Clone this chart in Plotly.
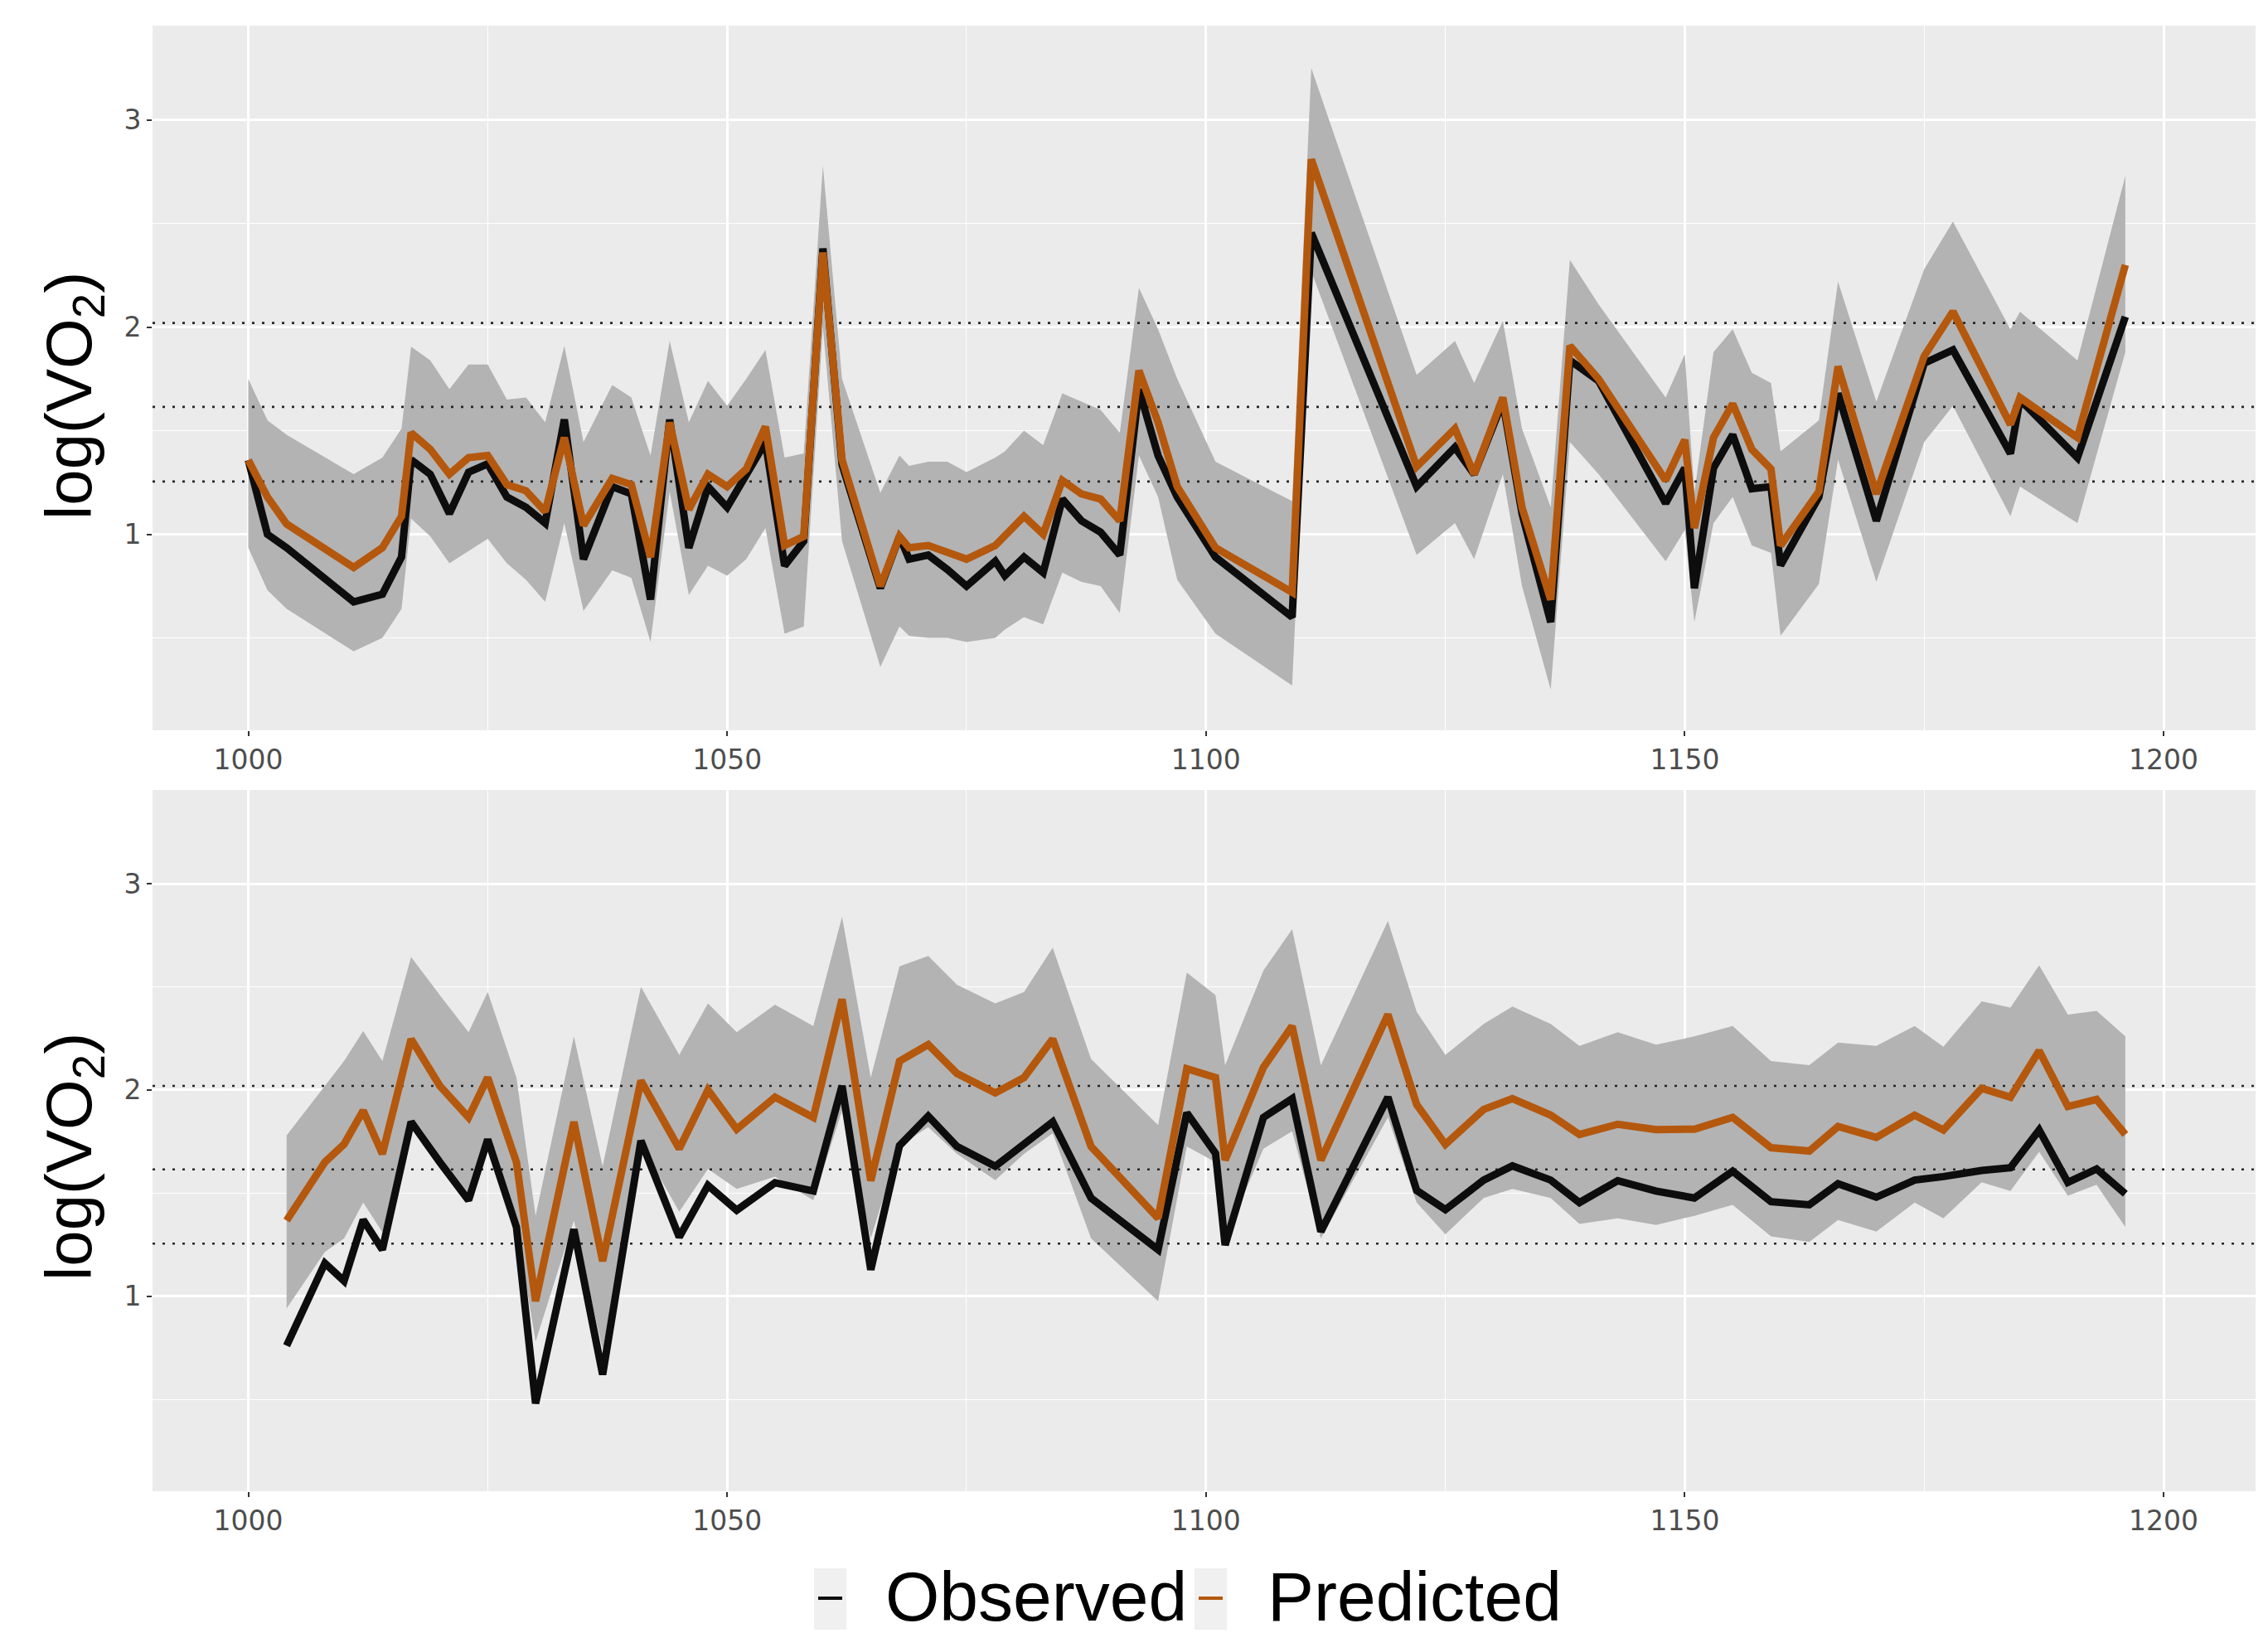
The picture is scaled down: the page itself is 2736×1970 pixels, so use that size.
import plotly.graph_objects as go

# ---------------- data ----------------
x1 = [1000, 1002, 1004, 1011, 1014, 1016, 1017, 1019, 1021, 1023,
      1025, 1027, 1029, 1031, 1033, 1035, 1038, 1040, 1042, 1044,
      1046, 1048, 1050, 1052, 1054, 1056, 1058, 1060, 1062, 1066,
      1068, 1069, 1071, 1073, 1075, 1078, 1079, 1081, 1083, 1085,
      1087, 1089, 1091, 1093, 1095, 1097, 1101, 1109, 1111, 1122,
      1126, 1128, 1131, 1133, 1136, 1138, 1141, 1148, 1150, 1151,
      1153, 1155, 1157, 1159, 1160, 1164, 1166, 1170, 1175, 1178,
      1184, 1185, 1191, 1196]
obs1 = [1.358, 1.0, 0.935, 0.674, 0.711, 0.89, 1.36, 1.29, 1.10, 1.30,
        1.34, 1.18, 1.13, 1.054, 1.554, 0.88, 1.23, 1.195, 0.685, 1.554,
        0.935, 1.23, 1.13, 1.29, 1.445, 0.848, 0.967, 2.38, 1.337, 0.74,
        0.99, 0.88, 0.90, 0.83, 0.75, 0.87, 0.80, 0.89, 0.815, 1.17,
        1.065, 1.01, 0.90, 1.70, 1.38, 1.18, 0.89, 0.60, 2.455, 1.23,
        1.42, 1.29, 1.64, 1.10, 0.576, 1.84, 1.74, 1.15, 1.32, 0.74,
        1.32, 1.48, 1.22, 1.23, 0.85, 1.18, 1.68, 1.065, 1.826, 1.89,
        1.39, 1.65, 1.37, 2.05]
pred1 = [1.358, 1.18, 1.05, 0.84, 0.935, 1.087, 1.49, 1.41, 1.29, 1.37,
         1.38, 1.24, 1.21, 1.11, 1.467, 1.043, 1.27, 1.24, 0.89, 1.54,
         1.12, 1.29, 1.23, 1.315, 1.52, 0.946, 0.99, 2.36, 1.36, 0.75,
         0.99, 0.935, 0.946, 0.91, 0.88, 0.946, 0.99, 1.087, 1.0, 1.26,
         1.195, 1.17, 1.065, 1.79, 1.54, 1.23, 0.935, 0.72, 2.81, 1.326,
         1.51, 1.29, 1.66, 1.13, 0.685, 1.91, 1.75, 1.26, 1.456, 1.03,
         1.467, 1.63, 1.41, 1.315, 0.946, 1.206, 1.81, 1.195, 1.86, 2.075,
         1.53, 1.66, 1.467, 2.30]
lo1 = [0.935, 0.73, 0.64, 0.435, 0.50, 0.64, 1.076, 0.99, 0.86, 0.92,
       0.978, 0.86, 0.78, 0.674, 1.054, 0.63, 0.826, 0.79, 0.48, 1.206,
       0.707, 0.848, 0.80, 0.88, 1.03, 0.52, 0.555, 2.0, 0.967, 0.36,
       0.555, 0.51, 0.50, 0.50, 0.48, 0.50, 0.54, 0.60, 0.565, 0.815,
       0.77, 0.75, 0.62, 1.38, 1.18, 0.78, 0.52, 0.27, 2.27, 0.90,
       1.054, 0.88, 1.29, 0.75, 0.25, 1.445, 1.29, 0.87, 1.02, 0.576,
       1.054, 1.18, 0.946, 0.91, 0.51, 0.76, 1.36, 0.77, 1.445, 1.62,
       1.087, 1.23, 1.054, 1.88]
hi1 = [1.75, 1.55, 1.48, 1.29, 1.37, 1.51, 1.906, 1.84, 1.70, 1.82,
       1.82, 1.65, 1.66, 1.54, 1.91, 1.445, 1.72, 1.66, 1.38, 1.934,
       1.54, 1.74, 1.62, 1.75, 1.89, 1.37, 1.39, 2.78, 1.75, 1.20,
       1.38, 1.33, 1.35, 1.35, 1.30, 1.37, 1.40, 1.50, 1.43, 1.68,
       1.64, 1.60, 1.49, 2.19, 1.99, 1.75, 1.35, 1.16, 3.25, 1.77,
       1.934, 1.73, 2.03, 1.51, 1.13, 2.325, 2.11, 1.66, 1.87, 1.20,
       1.88, 1.99, 1.78, 1.73, 1.40, 1.55, 2.22, 1.64, 2.28, 2.51,
       1.99, 2.075, 1.84, 2.73]

x2 = [1004, 1008, 1010, 1012, 1014, 1017, 1020, 1023, 1025, 1028,
      1030, 1034, 1037, 1041, 1045, 1048, 1051, 1055, 1059, 1062,
      1065, 1068, 1071, 1074, 1078, 1081, 1084, 1088, 1095, 1098,
      1101, 1102, 1106, 1109, 1112, 1119, 1122, 1125, 1129, 1132,
      1136, 1139, 1143, 1147, 1151, 1155, 1159, 1163, 1166, 1170,
      1174, 1177, 1181, 1184, 1187, 1190, 1193, 1196]
obs2 = [0.76, 1.16, 1.074, 1.37, 1.226, 1.845, 1.65, 1.465, 1.76, 1.335,
        0.48, 1.324, 0.62, 1.754, 1.287, 1.537, 1.417, 1.55, 1.51, 2.02,
        1.128, 1.73, 1.873, 1.726, 1.63, 1.736, 1.845, 1.476, 1.226, 1.889,
        1.693, 1.248, 1.867, 1.958, 1.313, 1.965, 1.513, 1.42, 1.563, 1.632,
        1.563, 1.454, 1.56, 1.51, 1.476, 1.606, 1.458, 1.443, 1.545, 1.48,
        1.563, 1.58, 1.61, 1.623, 1.806, 1.552, 1.617, 1.497]
pred2 = [1.367, 1.65, 1.737, 1.90, 1.69, 2.247, 2.02, 1.867, 2.06, 1.65,
         0.976, 1.845, 1.17, 2.045, 1.715, 2.0, 1.81, 1.965, 1.867, 2.44,
         1.56, 2.14, 2.22, 2.08, 1.986, 2.06, 2.247, 1.726, 1.378, 2.103,
         2.06, 1.66, 2.11, 2.31, 1.66, 2.366, 1.93, 1.736, 1.906, 1.958,
         1.878, 1.784, 1.834, 1.808, 1.81, 1.867, 1.72, 1.704, 1.823, 1.77,
         1.878, 1.806, 2.008, 1.965, 2.19, 1.92, 1.954, 1.784]
lo2 = [0.94, 1.215, 1.28, 1.454, 1.31, 1.82, 1.67, 1.487, 1.715, 1.345,
       0.78, 1.367, 0.74, 1.736, 1.41, 1.617, 1.52, 1.58, 1.465, 1.90,
       1.28, 1.73, 1.82, 1.69, 1.563, 1.69, 1.79, 1.28, 0.976, 1.726,
       1.65, 1.28, 1.715, 1.80, 1.28, 1.867, 1.454, 1.30, 1.476, 1.52,
       1.476, 1.35, 1.378, 1.345, 1.39, 1.443, 1.29, 1.263, 1.37, 1.313,
       1.454, 1.378, 1.552, 1.51, 1.70, 1.487, 1.54, 1.335]
hi2 = [1.78, 2.02, 2.14, 2.286, 2.14, 2.645, 2.46, 2.28, 2.475, 2.06,
       1.39, 2.26, 1.63, 2.50, 2.17, 2.42, 2.28, 2.414, 2.31, 2.84,
       2.06, 2.6, 2.65, 2.51, 2.42, 2.475, 2.69, 2.15, 1.83, 2.57,
       2.46, 2.12, 2.58, 2.78, 2.12, 2.82, 2.38, 2.17, 2.32, 2.405,
       2.32, 2.214, 2.28, 2.22, 2.26, 2.31, 2.14, 2.12, 2.23, 2.214,
       2.31, 2.21, 2.43, 2.40, 2.605, 2.366, 2.384, 2.26]

hline_levels = [2.02, 1.615, 1.255]
x_tick_vals = [1000, 1050, 1100, 1150, 1200]
x_tick_text = ["1000", "1050", "1100", "1150", "1200"]
x_minor_vals = [1025, 1075, 1125, 1175]
y_tick_vals = [1, 2, 3]
y_tick_text = ["1", "2", "3"]
y_minor_vals = [0.5, 1.5, 2.5]
series_names = ["Observed", "Predicted"]
y_title = "log(VO<sub>2</sub>)"

# ---------------- styling ----------------
W, H = 2736, 1970
OFF = 8  # page body margin offset
# target page-pixel positions of the panels
P_LEFT, P_RIGHT = 184, 2721
P1_TOP, P1_BOT = 31, 881
P2_TOP, P2_BOT = 953, 1799
ML = P_LEFT - OFF
MR = W - (P_RIGHT - OFF)
MT = P1_TOP - OFF
MB = H - (P2_BOT - OFF)
X_RANGE = [990.0, 1209.6]
Y_RANGE = [0.054, 3.455]
PANEL_BG = "#EBEBEB"
RIBBON = "#B3B3B3"
OBS_COLOR = "#0D0D0D"
PRED_COLOR = "#B4580E"
LINE_W = 9
TICK_FONT = dict(family="DejaVu Sans", size=33, color="#4D4D4D")

plot_h = H - MT - MB
plot_w = W - ML - MR


def py(y_page):
    return (H - MB - (y_page - OFF)) / plot_h


def px(x_page):
    return ((x_page - OFF) - ML) / plot_w


fig = go.Figure()

panels = [
    ("x", "y", x1, obs1, pred1, lo1, hi1),
    ("x2", "y2", x2, obs2, pred2, lo2, hi2),
]

for xa, ya, xs, ob, pr, lo, hi in panels:
    fig.add_trace(go.Scatter(x=xs, y=lo, xaxis=xa, yaxis=ya, mode="lines",
                             line=dict(width=0, color=RIBBON), showlegend=False,
                             hoverinfo="skip"))
    fig.add_trace(go.Scatter(x=xs, y=hi, xaxis=xa, yaxis=ya, mode="lines",
                             line=dict(width=0, color=RIBBON), fill="tonexty",
                             fillcolor=RIBBON, showlegend=False, hoverinfo="skip"))
    for lvl in hline_levels:
        fig.add_trace(go.Scatter(x=X_RANGE, y=[lvl, lvl], xaxis=xa, yaxis=ya,
                                 mode="lines", showlegend=False, hoverinfo="skip",
                                 line=dict(color="#262626", width=2.6, dash="3px,9px")))
    fig.add_trace(go.Scatter(x=xs, y=ob, xaxis=xa, yaxis=ya, mode="lines",
                             name=series_names[0], showlegend=False,
                             line=dict(color=OBS_COLOR, width=LINE_W)))
    fig.add_trace(go.Scatter(x=xs, y=pr, xaxis=xa, yaxis=ya, mode="lines",
                             name=series_names[1], showlegend=False,
                             line=dict(color=PRED_COLOR, width=LINE_W)))

axis_common_x = dict(
    range=X_RANGE, tickmode="array", tickvals=x_tick_vals, ticktext=x_tick_text,
    showgrid=True, gridcolor="white", gridwidth=2.6, zeroline=False, showline=False,
    ticks="outside", ticklen=6, tickwidth=2, tickcolor="#333333", tickfont=TICK_FONT,
    automargin=False,
    minor=dict(tickvals=x_minor_vals, showgrid=True, gridcolor="white", gridwidth=1.3, ticks=""),
)
axis_common_y = dict(
    range=Y_RANGE, tickmode="array", tickvals=y_tick_vals, ticktext=y_tick_text,
    showgrid=True, gridcolor="white", gridwidth=2.6, zeroline=False, showline=False,
    ticks="outside", ticklen=6, tickwidth=2, tickcolor="#333333", tickfont=TICK_FONT,
    automargin=False,
    minor=dict(tickvals=y_minor_vals, showgrid=True, gridcolor="white", gridwidth=1.3, ticks=""),
)

top_dom = [py(P1_BOT), 1.0]
bot_dom = [0.0, py(P2_TOP)]

fig.update_layout(
    width=W, height=H,
    margin=dict(l=ML, r=MR, t=MT, b=MB, pad=0),
    paper_bgcolor="white", plot_bgcolor=PANEL_BG,
    showlegend=False,
    xaxis=dict(domain=[0, 1], anchor="y", **axis_common_x),
    yaxis=dict(domain=top_dom, anchor="x", **axis_common_y),
    xaxis2=dict(domain=[0, 1], anchor="y2", **axis_common_x),
    yaxis2=dict(domain=bot_dom, anchor="x2", **axis_common_y),
)

# y-axis titles
for ycen in (478, 1396):
    fig.add_annotation(text=y_title, xref="paper", yref="paper",
                       x=px(88), y=py(ycen), xanchor="center", yanchor="middle",
                       textangle=-90, showarrow=False,
                       font=dict(family="Liberation Sans", size=78, color="black"))

# manual legend at the bottom
LEG_Y = 1926  # vertical centre of legend row (page pixels)
legend_items = [(982, 1021, OBS_COLOR, 1066, series_names[0]),
                (1441, 1480, PRED_COLOR, 1527, series_names[1])]
for kx0, kx1, col, tx, label in legend_items:
    fig.add_shape(type="rect", xref="paper", yref="paper", x0=px(kx0), x1=px(kx1),
                  y0=py(LEG_Y + 40), y1=py(LEG_Y - 34), fillcolor="#F0F0F0",
                  line=dict(width=0))
    fig.add_shape(type="line", xref="paper", yref="paper", x0=px(kx0 + 5), x1=px(kx1 - 5),
                  y0=py(LEG_Y + 2), y1=py(LEG_Y + 2), line=dict(color=col, width=4))
    fig.add_annotation(text=label, xref="paper", yref="paper", x=px(tx), y=py(LEG_Y),
                       xanchor="left", yanchor="middle", showarrow=False,
                       font=dict(family="Liberation Sans", size=84, color="black"))

fig.write_html("out.html")
